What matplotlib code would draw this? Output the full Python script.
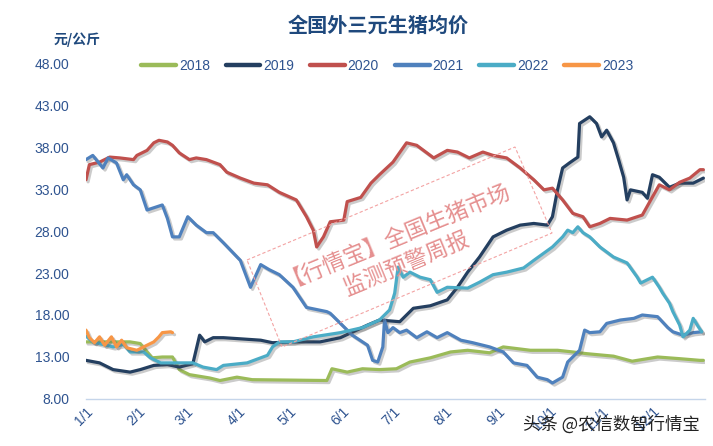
import matplotlib
matplotlib.use("Agg")
import matplotlib.pyplot as plt
import matplotlib.patheffects as pe
from matplotlib.patches import Polygon

plt.rcParams['font.family'] = ['Liberation Sans', 'Noto Sans CJK SC', 'DejaVu Sans']

# data: day of year (0 = 1/1) and price
d2018 = [0, 26, 32, 36, 39, 45, 51, 55, 61, 73, 79, 89, 98, 142, 145, 154, 163, 173, 183,
         191, 203, 215, 225, 238, 246, 262, 278, 287, 295, 311, 322, 337, 350, 362, 364]
v2018 = [14.8, 14.8, 14.6, 13.6, 12.9, 13.0, 13.0, 11.5, 10.9, 10.5, 10.2, 10.6, 10.3, 10.2, 11.6,
         11.2, 11.6, 11.5, 11.6, 12.4, 12.9, 13.6, 13.8, 13.5, 14.2, 13.8, 13.8, 13.6, 13.4, 13.1,
         12.5, 13.0, 12.8, 12.6, 12.6]

d2019 = [0, 8, 16, 26, 32, 40, 48, 55, 63, 67, 70, 75, 81, 103, 110, 124, 138, 150, 166, 173,
         185, 193, 203, 213, 219, 225, 232, 240, 248, 256, 264, 272, 275, 278, 281, 285, 290, 291,
         297, 301, 304, 307, 311, 314, 317, 319, 321, 328, 331, 334, 338, 344, 350, 358, 364]
v2019 = [12.6, 12.3, 11.5, 11.2, 11.5, 12.0, 12.1, 11.8, 12.2, 15.6, 14.8, 15.3, 15.3, 15.0, 14.7,
         14.8, 14.8, 15.3, 16.8, 17.4, 17.2, 18.8, 19.1, 19.8, 21.3, 23.1, 24.9, 27.3, 28.1, 28.7,
         28.9, 28.7, 29.7, 32.9, 35.5, 36.1, 36.8, 40.8, 41.6, 40.8, 39.2, 40.0, 38.5, 36.5, 34.4,
         31.7, 32.9, 32.6, 31.9, 34.7, 34.4, 33.2, 33.7, 33.7, 34.3]

d2020 = [0, 2, 8, 14, 20, 28, 30, 36, 40, 43, 48, 51, 55, 61, 65, 71, 79, 83, 91, 99, 107, 114,
         124, 130, 134, 136, 140, 144, 152, 154, 162, 168, 173, 181, 189, 195, 205, 213, 219, 226,
         234, 240, 248, 256, 264, 270, 275, 281, 287, 293, 297, 303, 309, 319, 328, 333, 338, 344,
         350, 356, 362, 364]
v2020 = [34.1, 35.9, 36.2, 36.8, 36.7, 36.5, 37.0, 37.6, 38.5, 38.8, 38.6, 38.2, 37.3, 36.5, 36.7,
         36.5, 35.9, 35.0, 34.3, 33.7, 33.5, 32.6, 31.7, 29.7, 28.1, 26.1, 27.3, 29.1, 29.3, 31.5,
         32.0, 33.7, 34.7, 36.2, 38.5, 38.2, 36.7, 37.6, 37.4, 36.7, 37.4, 37.0, 36.7, 35.5, 34.1,
         32.9, 33.1, 31.7, 30.1, 29.7, 28.5, 28.9, 29.5, 29.3, 29.9, 31.7, 33.5, 32.9, 33.8, 34.3,
         35.3, 35.3]

d2021 = [0, 4, 10, 13, 18, 22, 24, 28, 32, 36, 45, 48, 51, 55, 60, 65, 71, 75, 81, 91, 97, 103,
         108, 114, 122, 130, 142, 144, 150, 157, 166, 169, 172, 175, 176, 178, 181, 185, 189, 195,
         201, 207, 213, 221, 228, 238, 246, 252, 260, 266, 272, 275, 281, 284, 287, 291, 294, 297,
         303, 307, 315, 323, 328, 337, 343, 346, 352, 358, 363]
v2021 = [36.5, 37.0, 35.5, 36.7, 36.1, 34.1, 34.7, 33.5, 32.9, 30.5, 31.1, 29.5, 27.3, 27.3, 29.7,
         28.7, 27.8, 27.8, 26.6, 24.5, 21.3, 24.0, 23.4, 22.8, 21.3, 18.9, 18.4, 18.2, 17.0, 15.6,
         14.4, 12.6, 12.4, 14.2, 17.4, 15.9, 16.5, 15.9, 16.2, 15.3, 16.0, 15.3, 15.9, 15.0, 14.7,
         14.2, 13.6, 12.3, 12.0, 10.6, 10.3, 9.9, 10.6, 12.4, 13.0, 13.8, 16.2, 15.9, 16.0, 17.0,
         17.4, 17.6, 18.0, 17.8, 16.5, 16.0, 15.6, 15.9, 16.0]

d2022 = [0, 4, 16, 22, 26, 34, 38, 44, 55, 63, 69, 77, 81, 95, 103, 107, 110, 114, 122, 134, 150,
         163, 173, 179, 182, 184, 187, 191, 197, 203, 207, 213, 225, 232, 240, 248, 258, 264, 275,
         281, 284, 287, 290, 293, 297, 303, 311, 319, 325, 327, 334, 338, 340, 344, 346, 350, 352,
         356, 358, 361, 363]
v2022 = [15.5, 14.8, 14.2, 14.5, 13.6, 13.6, 12.9, 12.3, 12.3, 12.3, 11.8, 11.5, 12.0, 12.3, 12.9,
         13.2, 14.2, 14.8, 14.8, 15.4, 15.9, 16.5, 17.4, 18.6, 20.6, 23.7, 22.5, 23.1, 22.5, 22.2,
         20.7, 21.3, 21.2, 21.9, 22.8, 23.1, 23.6, 24.5, 26.1, 27.3, 28.1, 27.8, 28.5, 27.8, 27.3,
         26.1, 24.9, 24.2, 22.5, 21.8, 22.5, 21.3, 20.6, 19.4, 18.4, 16.8, 15.4, 16.2, 17.6, 16.6,
         16.0]

d2023 = [0, 2, 5, 8, 11, 15, 18, 21, 24, 30, 36, 40, 43, 45, 50, 51]
v2023 = [16.2, 15.3, 14.7, 15.4, 14.4, 15.4, 14.2, 15.0, 14.1, 13.8, 14.4, 14.8, 15.4, 15.9, 16.0, 15.9]

years = ['2018', '2019', '2020', '2021', '2022', '2023']
colors = ['#9BBB59', '#243F60', '#C0504D', '#4F81BD', '#4BACC6', '#F79646']

month_days = [0, 31, 59, 90, 120, 151, 181, 212, 243, 273, 304, 334]
month_labels = ['1/1', '2/1', '3/1', '4/1', '5/1', '6/1', '7/1', '8/1', '9/1', '10/1', '11/1', '12/1']
y_ticks = [8, 13, 18, 23, 28, 33, 38, 43, 48]

txt_color = '#2F5490'

fig = plt.figure(figsize=(7.13, 4.46), dpi=100)
ax = fig.add_axes([0.1206, 0.1054, 0.8683, 0.7533])

series = [(d2018, v2018), (d2019, v2019), (d2020, v2020),
          (d2021, v2021), (d2022, v2022), (d2023, v2023)]
shadow = [pe.SimpleLineShadow(offset=(1.5, -1.5), shadow_color='#555555', alpha=0.3),
          pe.Normal()]
for (dd, vv), yr, c in zip(series, years, colors):
    ax.plot(dd, vv, color=c, lw=2.3, label=yr, solid_capstyle='round',
            solid_joinstyle='round', path_effects=shadow)

ax.set_xlim(0, 365)
ax.set_ylim(8, 48)
ax.set_yticks(y_ticks)
ax.set_yticklabels([f'{t:.2f}' for t in y_ticks])
ax.set_xticks(month_days)
ax.set_xticklabels(month_labels, rotation=45, ha='right', va='top', rotation_mode='anchor')
ax.tick_params(axis='both', length=0, labelsize=10, colors=txt_color)
ax.tick_params(axis='y', pad=12)
ax.tick_params(axis='x', pad=4)
for s in ['top', 'right', 'left']:
    ax.spines[s].set_visible(False)
ax.spines['bottom'].set_color('#C5D5EA')
ax.spines['bottom'].set_linewidth(1)

leg = fig.legend(*ax.get_legend_handles_labels(), loc='center', bbox_to_anchor=(0.543, 0.852),
                 ncol=6, frameon=False, handlelength=2.5, handletextpad=0.2,
                 columnspacing=1.15, fontsize=10)
for t in leg.get_texts():
    t.set_color(txt_color)
for h in leg.get_lines():
    h.set_linewidth(3.2)
    h.set_path_effects([])

fig.text(0.530, 0.944, '全国外三元生猪均价', ha='center', va='center', fontsize=14.5,
         fontweight='bold', color='#1F497D', family=['Noto Sans CJK SC'])
fig.text(0.108, 0.910, '元/公斤', ha='center', va='center', fontsize=10,
         fontweight='bold', color='#1F497D', family=['Noto Sans CJK SC'])

# watermark box
W, H = 713.0, 446.0
corners = [(247, 260), (515, 147), (552, 233), (282, 347)]
poly = Polygon([(x / W, 1 - y / H) for x, y in corners], closed=True, fill=False,
               ls=(0, (3, 2)), lw=0.8, ec='#F3A3A3', transform=fig.transFigure)
fig.add_artist(poly)
fig.text(395 / W, 1 - 232 / H, '【行情宝】全国生猪市场', rotation=22.4, ha='center', va='center',
         fontsize=16, color='#E58F8F', family=['Noto Sans CJK SC'], rotation_mode='anchor')
fig.text(406 / W, 1 - 264 / H, '监测预警周报', rotation=22.4, ha='center', va='center',
         fontsize=16, color='#E58F8F', family=['Noto Sans CJK SC'], rotation_mode='anchor')

fig.text(700 / W, 1 - 425 / H, '头条 @农信数智行情宝', ha='right', va='center', fontsize=12.5,
         color='#222222', family=['Noto Sans CJK SC', 'DejaVu Sans'])

fig.savefig('out.png', dpi=100)
